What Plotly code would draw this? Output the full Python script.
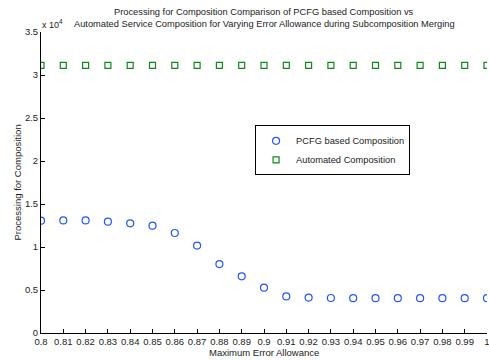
import plotly.graph_objects as go

error_allowance = [0.80, 0.81, 0.82, 0.83, 0.84, 0.85, 0.86, 0.87, 0.88, 0.89, 0.90,
                   0.91, 0.92, 0.93, 0.94, 0.95, 0.96, 0.97, 0.98, 0.99, 1.00]
pcfg = [13060, 13090, 13090, 12940, 12750, 12480, 11630, 10160, 8020, 6590, 5270,
        4250, 4120, 4070, 4050, 4050, 4050, 4050, 4050, 4050, 4050]
automated = [31130] * 21
x_ticks = [0.80, 0.81, 0.82, 0.83, 0.84, 0.85, 0.86, 0.87, 0.88, 0.89, 0.90,
           0.91, 0.92, 0.93, 0.94, 0.95, 0.96, 0.97, 0.98, 0.99, 1.00]
x_tick_labels = ["0.8", "0.81", "0.82", "0.83", "0.84", "0.85", "0.86", "0.87", "0.88", "0.89", "0.9",
                 "0.91", "0.92", "0.93", "0.94", "0.95", "0.96", "0.97", "0.98", "0.99", "1"]
y_ticks = [0, 5000, 10000, 15000, 20000, 25000, 30000, 35000]
y_tick_labels = ["0", "0.5", "1", "1.5", "2", "2.5", "3", "3.5"]
title_lines = ["Processing for Composition Comparison of PCFG based Composition vs",
               "Automated Service Composition for Varying Error Allowance during Subcomposition Merging"]

FONT = "Liberation Sans, Arial, sans-serif"
TXT = "#222222"

fig = go.Figure()
fig.add_trace(go.Scatter(x=error_allowance, y=pcfg, mode="markers",
                         name="PCFG based Composition",
                         marker=dict(symbol="circle-open", size=7, color="#2255ff",
                                     line=dict(width=1.2, color="#2255ff"))))
fig.add_trace(go.Scatter(x=error_allowance, y=automated, mode="markers",
                         name="Automated Composition",
                         marker=dict(symbol="square-open", size=6, color="#11881a",
                                     line=dict(width=1.2, color="#11881a"))))

fig.update_layout(
    width=489, height=360,
    margin=dict(l=40.5, r=1.5, t=32, b=27, autoexpand=False),
    plot_bgcolor="white", paper_bgcolor="white",
    font=dict(family=FONT, size=9.5, color=TXT),
    showlegend=True,
    legend=dict(x=0.48, y=0.69, xanchor="left", yanchor="top",
                bgcolor="white", bordercolor="black", borderwidth=1,
                font=dict(size=9.3, color=TXT), itemwidth=30, tracegroupgap=0),
    xaxis=dict(range=[0.8, 1.0], tickvals=x_ticks, ticktext=x_tick_labels,
               ticks="inside", ticklen=4, tickcolor="#000000", automargin=False,
               ticklabeloverflow="allow",
               showline=True, linecolor="#000000", linewidth=1,
               showgrid=False, zeroline=False, tickfont=dict(size=9.5)),
    yaxis=dict(range=[0, 35000], tickvals=y_ticks, ticktext=y_tick_labels,
               ticks="inside", ticklen=4, tickcolor="#000000", automargin=False,
               ticklabeloverflow="allow",
               showline=True, linecolor="#000000", linewidth=1,
               showgrid=False, zeroline=False, tickfont=dict(size=9.5)),
)

fig.add_annotation(text=title_lines[0], xref="paper", yref="paper", x=0.5, y=1.0, yshift=20.5,
                   xanchor="center", yanchor="middle", showarrow=False,
                   font=dict(size=9.3, family=FONT, color=TXT))
fig.add_annotation(text=title_lines[1], xref="paper", yref="paper", x=0.5, y=1.0, yshift=8,
                   xanchor="center", yanchor="middle", showarrow=False,
                   font=dict(size=9.3, family=FONT, color=TXT))
fig.add_annotation(text="x 10<sup>4</sup>", xref="paper", yref="paper", x=0, y=1.0, xshift=-1, yshift=0,
                   xanchor="left", yanchor="bottom", showarrow=False,
                   font=dict(size=9, family=FONT, color=TXT))
fig.add_annotation(text="Maximum Error Allowance", xref="paper", yref="paper", x=0.5, y=0,
                   yshift=-19, xanchor="center", yanchor="middle", showarrow=False,
                   font=dict(size=9.5, family=FONT, color=TXT))
fig.add_annotation(text="Processing for Composition", xref="paper", yref="paper", x=0, y=0.5,
                   xshift=-24, textangle=-90, xanchor="center", yanchor="middle", showarrow=False,
                   font=dict(size=9.5, family=FONT, color=TXT))

fig.write_html("out.html", config={"displayModeBar": False},
               post_script="document.body.style.margin='0';")
